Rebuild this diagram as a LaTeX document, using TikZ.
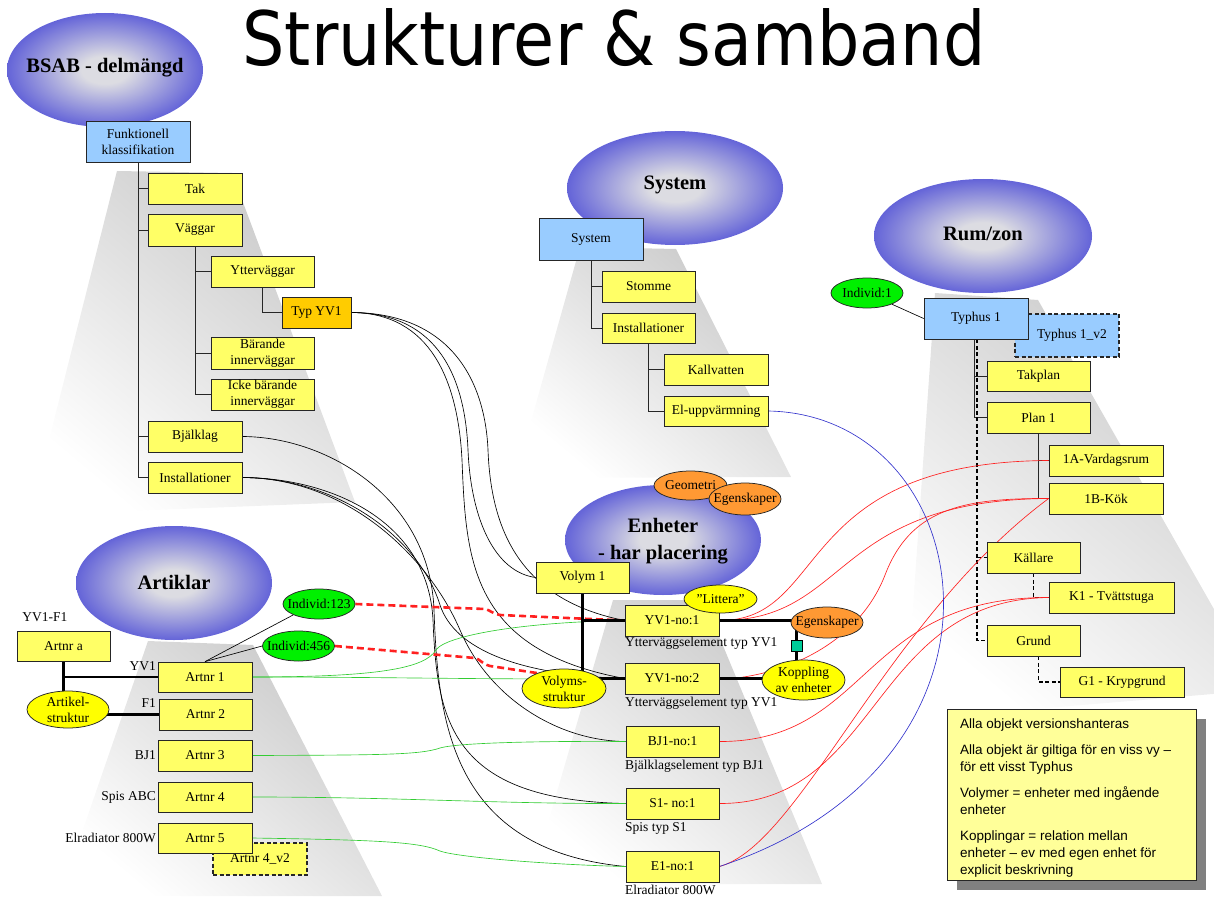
\documentclass[tikz,border=0pt]{standalone}
\usepackage{fontspec}
\setmainfont{Liberation Serif}
\newfontfamily\notefont{Liberation Sans}
\newfontfamily\titlefont{DejaVu Sans}
\usetikzlibrary{shapes.geometric,shadows,calc}
\pgfdeclarelayer{bg}
\pgfdeclarelayer{conn}
\pgfsetlayers{bg,conn,main}
\definecolor{cg}{HTML}{DCDCE2}
\definecolor{cb}{HTML}{6464D8}
\definecolor{boxy}{HTML}{FFFF66}
\definecolor{boxb}{HTML}{99CCFF}
\definecolor{boxo}{HTML}{FFCC00}
\definecolor{elg}{HTML}{00F000}
\definecolor{elo}{HTML}{FF9933}
\definecolor{ely}{HTML}{FFFF00}
\definecolor{notey}{HTML}{FFFF99}
\definecolor{teal2}{HTML}{00CC99}
\definecolor{linered}{HTML}{FF2020}
\definecolor{linegreen}{HTML}{33CC33}
\definecolor{lineblue}{HTML}{3333CC}
\pgfdeclareradialshading{blueball}{\pgfpoint{0bp}{0bp}}{color(0bp)=(cg); color(6bp)=(cg); color(25bp)=(cb); color(50bp)=(cb)}
\begin{document}
\begin{tikzpicture}[x=1pt, y=-1pt,
 bnode/.style={draw=black!85, line width=0.75pt, inner sep=1pt, align=center, font=\fontsize{13.5}{16}\selectfont},
 shad/.style={drop shadow={shadow xshift=1.3pt, shadow yshift=-1.3pt, fill=black!45, opacity=1}},
 ybox/.style={bnode, shad, rectangle, fill=boxy},
 bbox/.style={bnode, shad, rectangle, fill=boxb},
 obox/.style={bnode, shad, rectangle, fill=boxo},
 dybox/.style={bnode, rectangle, fill=boxy, line width=1.5pt, dash pattern=on 4pt off 2.5pt},
 dbbox/.style={bnode, rectangle, fill=boxb, line width=1.5pt, dash pattern=on 4pt off 2.5pt},
 wh/.style 2 args={minimum width=#1pt, minimum height=#2pt},
 lab/.style={font=\fontsize{13.5}{16}\selectfont, align=center, inner sep=0pt},
 gell/.style={bnode, ellipse, inner sep=0pt, fill=elg},
 oell/.style={bnode, ellipse, inner sep=0pt, fill=elo},
 yell/.style={bnode, ellipse, inner sep=0pt, fill=ely},
 bigl/.style={font=\bfseries\fontsize{20.5}{27}\selectfont, align=center, inner sep=0pt},
 capt/.style={font=\fontsize{13.5}{16}\selectfont, inner sep=0pt},
 treeline/.style={draw=black!85, line width=0.8pt},
 thk/.style={draw=black, line width=2.3pt},
 dtree/.style={draw=black, line width=1.7pt, dash pattern=on 4pt off 2.5pt},
 bl/.style={draw=black, line width=0.65pt},
 rl/.style={draw=linered, line width=0.65pt},
 gl/.style={draw=linegreen, line width=0.65pt},
 bll/.style={draw=lineblue, line width=0.65pt},
 rd/.style={draw=linered, line width=2.6pt, dash pattern=on 7pt off 4pt},
 beamshade/.style={top color=black!21, bottom color=white, shading angle=-40}
]
\useasboundingbox (0,0) rectangle (1214,896);

\begin{pgfonlayer}{bg}
\shade[beamshade] (117,171) -- (232,173) -- (355,502) -- (30,515) -- cycle;
\shade[beamshade] (580,247) -- (676,249) -- (791,477) -- (515,478) -- cycle;
\shade[beamshade] (935,293) -- (1038,300) -- (1260,690) -- (905,720) -- cycle;
\shade[beamshade] (613,600) -- (704,600) -- (822,884) -- (530,884) -- cycle;
\shade[beamshade] (148,641) -- (253,645) -- (382,896) -- (60,896) -- cycle;
\shade[shading=blueball] (105,70) ellipse [x radius=98pt, y radius=57pt];
\shade[shading=blueball] (675,188) ellipse [x radius=108pt, y radius=57pt];
\shade[shading=blueball] (983,236) ellipse [x radius=109pt, y radius=57pt];
\shade[shading=blueball] (663,540) ellipse [x radius=98pt, y radius=55pt];
\shade[shading=blueball] (174,583) ellipse [x radius=98pt, y radius=57pt];
\end{pgfonlayer}

% title and group labels
\node[font=\titlefont\fontsize{75}{80}\selectfont, anchor=base, inner sep=0pt] (title) at (614,66) {\scalebox{0.89}[1]{Strukturer \& samband}};
\node[bigl] (lbsab) at (105,68) {BSAB - delmängd};
\node[bigl] (lsys) at (675,185) {System};
\node[bigl] (lrum) at (983,234) {Rum/zon};
\node[bigl] (lenh) at (663,541) {Enheter\\- har placering};
\node[bigl] (lart) at (174,582) {Artiklar};

% BSAB tree
\node[bbox, wh={104}{41}] (fk) at (138,141.5) {Funktionell\\klassifikation};
\node[ybox, wh={94}{31}] (tak) at (195,188.5) {Tak};
\node[ybox, wh={94}{32}] (vag) at (195,230) {Väggar};
\node[ybox, wh={103}{31}] (ytv) at (262.5,271.5) {Ytterväggar};
\node[obox, wh={69}{31}] (typ) at (316.5,312.5) {Typ YV1};
\node[ybox, wh={103}{32}, inner sep=0pt] (bar) at (262.5,353) {Bärande\\innerväggar};
\node[ybox, wh={103}{31}, inner sep=0pt] (icke) at (262.5,394.5) {Icke bärande\\innerväggar};
\node[ybox, wh={94}{31}] (bjk) at (195,436.5) {Bjälklag};
\node[ybox, wh={94}{31}] (inst) at (195,477.5) {Installationer};

% System tree
\node[bbox, wh={104}{42}] (sys) at (591,239) {System};
\node[ybox, wh={93}{31}] (stom) at (648.5,286.5) {Stomme};
\node[ybox, wh={93}{30}] (sinst) at (648.5,328) {Installationer};
\node[ybox, wh={104}{31}] (kall) at (716,369.5) {Kallvatten};
\node[ybox, wh={104}{30}] (elu) at (716,411) {El-uppvärmning};

% Rum/zon tree
\node[gell, wh={72}{30}, label={[lab]center:Individ:1}] (ind1) at (867,293) {};
\node[dbbox, wh={104}{43}] (typ2) at (1067,335.5) {\hspace*{10pt}Typhus 1\_v2};
\node[bbox, wh={104}{41}] (typ1) at (976,318.5) {Typhus 1};
\node[ybox, wh={103}{30}] (takp) at (1038.5,376) {Takplan};
\node[ybox, wh={103}{31}] (plan1) at (1038.5,417.5) {Plan 1};
\node[ybox, wh={114}{31}] (v1a) at (1106,460.5) {1A-Vardagsrum};
\node[ybox, wh={114}{31}] (v1b) at (1106,498.5) {1B-Kök};
\node[ybox, wh={93}{31}] (kal) at (1033.5,557.5) {Källare};
\node[ybox, wh={125}{31}] (k1) at (1111.5,597.5) {K1 - Tvättstuga};
\node[ybox, wh={93}{31}] (grund) at (1033.5,640.5) {Grund};
\node[ybox, wh={124}{30}] (g1) at (1122,682) {G1 - Krypgrund};

% note
\node[draw=black!85, line width=0.8pt, fill=notey, wh={249}{171}, drop shadow={shadow xshift=10pt, shadow yshift=-10pt, fill=black!50, opacity=1}] (note) at (1071.5,794.5) {};
\node[anchor=north west, align=left, inner sep=0pt, font=\notefont\fontsize{13.5}{17}\selectfont] (notetxt) at (960,719) {Alla objekt versionshanteras\\[9pt]Alla objekt är giltiga för en viss vy –\\för ett visst Typhus\\[9pt]Volymer = enheter med ingående\\enheter\\[9pt]Kopplingar = relation mellan\\enheter – ev med egen enhet för\\explicit beskrivning};

% Artiklar
\node[capt] (tyf) at (45,617) {YV1-F1};
\node[ybox, wh={93}{30}] (arta) at (63.5,646) {Artnr a};
\node[ybox, wh={94}{30}] (art1) at (205,677) {Artnr 1};
\node[ybox, wh={93}{31}] (art2) at (205.5,714.5) {Artnr 2};
\node[ybox, wh={94}{31}] (art3) at (205,755.5) {Artnr 3};
\node[ybox, wh={94}{30}] (art4) at (205,797) {Artnr 4};
\node[dybox, wh={94}{32}] (art4v2) at (260,859) {\raisebox{-3pt}{Artnr 4\_v2}};
\node[ybox, wh={94}{30}] (art5) at (205,838) {Artnr 5};
\node[yell, wh={82}{37}, label={[lab]center:{Artikel-\\struktur}}] (artst) at (68,709.5) {};
\node[gell, wh={72}{30}, label={[lab]center:Individ:123}] (i123) at (319,604) {};
\node[gell, wh={72}{30}, label={[lab]center:Individ:456}] (i456) at (298.5,646) {};
\node[capt, anchor=east] (tyv1) at (156,666) {YV1};
\node[capt, anchor=east] (tf1) at (156,703) {F1};
\node[capt, anchor=east] (tbj1) at (156,755) {BJ1};
\node[capt, anchor=east] (tspis) at (156,797) {Spis ABC};
\node[capt, anchor=east] (telr) at (156,838) {Elradiator 800W};

% Enheter
\node[oell, wh={73}{29}, label={[lab]center:Geometri}] (geo) at (690.5,485.5) {};
\node[oell, wh={72}{32}, label={[lab]center:Egenskaper}] (egen1) at (745,499) {};
\node[ybox, wh={93}{31}] (vol1) at (582.5,577.5) {Volym 1};
\node[ybox, wh={94}{31}] (yv1) at (672,620.5) {YV1-no:1};
\node[yell, wh={73}{28}, label={[lab]center:”Littera”}] (litt) at (720.5,599) {};
\node[oell, wh={72}{31}, label={[lab]center:Egenskaper}] (egen2) at (827,622.5) {};
\node[draw=black, line width=0.75pt, fill=teal2, wh={11}{11}, inner sep=0pt] (sq) at (796.5,645.5) {};
\node[yell, wh={83}{40}, label={[lab]center:{Koppling\\av enheter}}] (kopp) at (803.5,680) {};
\node[ybox, wh={94}{31}] (yv2) at (672,678.5) {YV1-no:2};
\node[yell, wh={84}{39}, label={[lab]center:{Volyms-\\struktur}}] (vs) at (564,688.5) {};
\node[ybox, wh={93}{31}] (bj1) at (672.5,741.5) {BJ1-no:1};
\node[ybox, wh={93}{31}] (s1) at (672.5,803.5) {S1- no:1};
\node[ybox, wh={93}{31}] (e1) at (672.5,866.5) {E1-no:1};
\node[capt, anchor=west] (cyv1) at (625,643) {Ytterväggselement typ YV1};
\node[capt, anchor=west] (cyv2) at (625,703) {Ytterväggselement typ YV1};
\node[capt, anchor=west] (cbj1) at (625,766) {Bjälklagselement typ BJ1};
\node[capt, anchor=west] (cs1) at (625,828) {Spis typ S1};
\node[capt, anchor=west] (ce1) at (625,890) {Elradiator 800W};

\begin{pgfonlayer}{conn}
% BSAB tree
\draw[treeline] (fk.south) |- (inst.west);
\draw[treeline] (fk.south |- tak.west) -- (tak.west);
\draw[treeline] (fk.south |- vag.west) -- (vag.west);
\draw[treeline] (fk.south |- bjk.west) -- (bjk.west);
\draw[treeline] (vag.south) |- (icke.west);
\draw[treeline] (vag.south |- ytv.west) -- (ytv.west);
\draw[treeline] (vag.south |- bar.west) -- (bar.west);
\draw[treeline] (ytv.south) |- (typ.west);
% System tree
\draw[treeline] (sys.south) |- (sinst.west);
\draw[treeline] (sys.south |- stom.west) -- (stom.west);
\draw[treeline] (sinst.south) |- (elu.west);
\draw[treeline] (sinst.south |- kall.west) -- (kall.west);
% Rum tree
\draw[treeline] ([xshift=-1.5pt]typ1.south) |- (plan1.west);
\draw[treeline] ([xshift=-1.5pt]typ1.south |- takp.west) -- (takp.west);
\draw[dtree] ([xshift=1pt]typ1.south) |- (grund.west);
\draw[dtree] ([xshift=1pt]typ1.south |- kal.west) -- (kal.west);
\draw[treeline] (plan1.south) |- (v1b.west);
\draw[treeline] (plan1.south |- v1a.west) -- (v1a.west);
\draw[dtree] (kal.south) |- (k1.west);
\draw[dtree] ([xshift=5pt]grund.south) |- (g1.west);
\draw[bl] (ind1) -- (typ1.west);
% black curves BSAB -> Enheter
\draw[bl] (typ.east) .. controls (440,313) and (465,380) .. (468,450) .. controls (471,520) and (495,572) .. (vol1.west);
\draw[bl] (typ.east) .. controls (450,313) and (485,380) .. (488,450) .. controls (491,530) and (520,600) .. (yv1.west);
\draw[bl] (typ.east) .. controls (430,313) and (458,380) .. (462,460) .. controls (466,560) and (470,650) .. (yv2.west);
\draw[bl] (bjk.east) .. controls (330,437) and (430,500) .. (434,610) .. controls (438,720) and (450,850) .. (e1.west);
\draw[bl] (inst.east) .. controls (330,478) and (428,520) .. (433,620) .. controls (437,720) and (450,800) .. (s1.west);
\draw[bl] (inst.east) .. controls (340,478) and (420,540) .. (440,605) .. controls (455,650) and (520,675) .. (yv2.west);
\draw[bl] (inst.east) .. controls (350,478) and (430,560) .. (460,630) .. controls (490,700) and (560,741) .. (bj1.west);
% green curves Artiklar -> Enheter
\draw[gl] (art1.east) .. controls (380,677) and (425,668) .. (436,650) .. controls (445,636) and (520,622) .. (yv1.west);
\draw[gl] (art1.east) .. controls (400,677) and (500,680) .. (yv2.west);
\draw[gl] (art3.east) .. controls (380,755) and (420,755) .. (440,748) .. controls (460,742) and (560,741) .. (bj1.west);
\draw[gl] (art4.east) .. controls (400,797) and (500,804) .. (s1.west);
\draw[gl] (art5.east) .. controls (380,840) and (420,842) .. (440,851) .. controls (460,858) and (560,865) .. (e1.west);
% red dashed individuals
\draw[rd] (i123.east) -- (485,609) .. controls (490,610) and (493,614) .. (500,615) -- (yv1.west);
\draw[rd] (i456.east) -- (475,658) .. controls (480,659) and (482,664) .. (490,666) -- (vs.150);
% red curves Enheter -> Rum
\draw[rl] (yv1.east) .. controls (830,621) and (790,462) .. (v1a.west);
\draw[rl] (yv1.east) .. controls (850,621) and (830,500) .. (v1b.west);
\draw[rl] ([yshift=-1pt]yv2.east) .. controls (790,676) and (860,640) .. (885,575) .. controls (910,510) and (960,498) .. (v1b.west);
\draw[rl] (bj1.east) .. controls (870,742) and (860,597) .. (k1.west);
\draw[rl] (s1.east) .. controls (880,804) and (870,600) .. (k1.west);
\draw[rl] (e1.east) .. controls (800,845) and (885,620) .. (v1b.west);
% blue curve System -> Enheter
\draw[bll] (elu.east) .. controls (980,415) and (1040,760) .. (e1.east);
% Artiklar structure
\draw[thk] (arta.south) -- (arta.south |- artst.center);
\draw[thk] (arta.south |- art1.west) -- (art1.west);
\draw[thk] (artst.center |- art2.west) -- (art2.west);
\draw[bl] (art1.north) -- (i123.south west);
\draw[bl] (art1.north) -- (i456.west);
% Enheter structure
\draw[thk] (vol1.south) -- (vol1.south |- vs.center);
\draw[thk] (vol1.south |- yv1.west) -- (yv1.west);
\draw[thk] (vs.center |- yv2.west) -- (yv2.west);
\draw[thk] (yv1.east) -| (sq.center) -- (sq.center |- kopp.center);
\draw[thk] (yv2.east) -- (kopp.center |- yv2.east);
\end{pgfonlayer}
\end{tikzpicture}
\end{document}
